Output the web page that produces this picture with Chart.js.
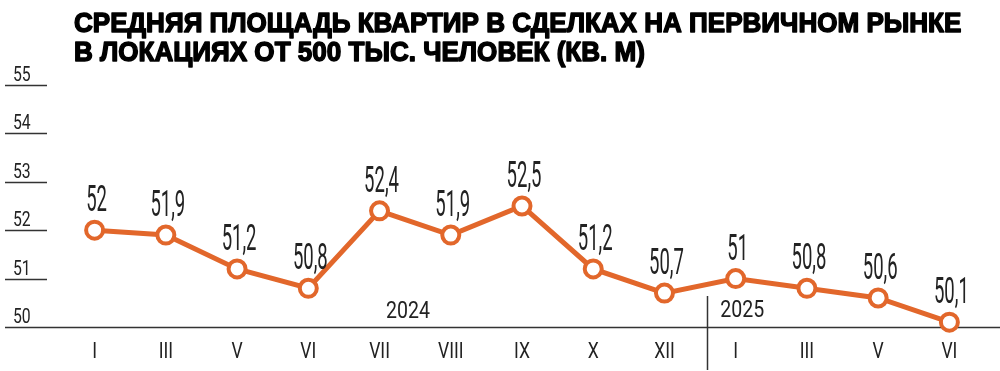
<!DOCTYPE html>
<html>
<head>
<meta charset="utf-8">
<script src="https://cdn.jsdelivr.net/npm/chart.js@4"></script>
<style>
  html, body { margin: 0; padding: 0; background: #fff; }
  #wrap { width: 1000px; height: 371px; position: relative; }
</style>
</head>
<body>
<div id="wrap"><canvas id="lineChart"></canvas></div>
<script>
// данные
const meses = ["I", "III", "V", "VI", "VII", "VIII", "IX", "X", "XII", "I", "III", "V", "VI"];
const area = [52, 51.9, 51.2, 50.8, 52.4, 51.9, 52.5, 51.2, 50.7, 51, 50.8, 50.6, 50.1];
const yTicks = [50, 51, 52, 53, 54, 55];
const anos = ["2024", "2025"];
const titulo = ["СРЕДНЯЯ ПЛОЩАДЬ КВАРТИР В СДЕЛКАХ НА ПЕРВИЧНОМ РЫНКЕ",
                "В ЛОКАЦИЯХ ОТ 500 ТЫС. ЧЕЛОВЕК (КВ. М)"];

const laranja = "#E2672B";
const tinta = "#222";

// texto estreito (fonte condensada simulada)
function textoEstreito(ctx, txt, x, y, size, sx, align, peso) {
  ctx.save();
  ctx.font = `${peso || 400} ${size}px "Roboto", "Liberation Sans", sans-serif`;
  ctx.textBaseline = "alphabetic";
  ctx.textAlign = align || "center";
  ctx.translate(x, y);
  ctx.scale(sx, 1);
  ctx.fillText(txt, 0, 0);
  ctx.restore();
}

const desenhos = {
  id: "desenhos",
  beforeDatasetsDraw(chart) {
    const { ctx } = chart;
    const x = chart.scales.x, y = chart.scales.y;
    ctx.save();
    ctx.fillStyle = tinta;
    ctx.strokeStyle = "#333";
    ctx.lineWidth = 1.5;
    // eixo y: traços curtos e rótulos
    yTicks.forEach(v => {
      const py = Math.round(y.getPixelForValue(v)) + 0.5;
      ctx.beginPath();
      ctx.moveTo(5, py);
      ctx.lineTo(v === 50 ? 1000 : 47, py);
      ctx.stroke();
      textoEstreito(ctx, String(v), 13, py - 5, 21, 0.75, "left");
    });
    // rótulos do eixo x
    meses.forEach((m, i) => {
      textoEstreito(ctx, m, x.getPixelForValue(i), 358, 22, 0.8);
    });
    // separador de anos
    const sep = x.getPixelForValue(8) + (x.getPixelForValue(9) - x.getPixelForValue(8)) * 0.6;
    ctx.beginPath();
    ctx.moveTo(Math.round(sep) + 0.5, 296);
    ctx.lineTo(Math.round(sep) + 0.5, 370);
    ctx.stroke();
    const x4 = x.getPixelForValue(4), x5 = x.getPixelForValue(5);
    textoEstreito(ctx, anos[0], x4 + (x5 - x4) * 0.4, 318, 23, 0.85);
    textoEstreito(ctx, anos[1], sep + 13, 317, 23, 0.85, "left");
    ctx.restore();
  },
  afterDatasetsDraw(chart) {
    const { ctx } = chart;
    const meta = chart.getDatasetMeta(0);
    ctx.save();
    ctx.fillStyle = tinta;
    meta.data.forEach((pt, i) => {
      const txt = String(area[i]).replace(".", ",");
      textoEstreito(ctx, txt, pt.x + 2, pt.y - 19, 37, 0.5);
    });
    // título (pesado)
    ctx.fillStyle = "#000";
    ctx.strokeStyle = "#000";
    ctx.lineWidth = 1.4;
    ctx.lineJoin = "round";
    ctx.textAlign = "left";
    ctx.textBaseline = "alphabetic";
    let size = 30;
    const fam = `"Liberation Sans", "Arial", sans-serif`;
    ctx.font = `bold ${size}px ${fam}`;
    const w = ctx.measureText(titulo[0]).width;
    size = size * 888 / w;
    ctx.font = `bold ${size}px ${fam}`;
    [[titulo[0], 32], [titulo[1], 61]].forEach(([t, by]) => {
      ctx.save();
      ctx.translate(74, by);
      ctx.scale(1, 1.08);
      ctx.fillText(t, 0, 0);
      ctx.strokeText(t, 0, 0);
      ctx.restore();
    });
    ctx.restore();
  }
};

new Chart(document.getElementById("lineChart").getContext("2d"), {
  type: "line",
  data: {
    labels: meses,
    datasets: [{
      data: area,
      borderColor: laranja,
      borderWidth: 5,
      pointRadius: 8.5,
      pointBorderWidth: 4,
      pointBackgroundColor: "#fff",
      pointBorderColor: laranja,
      tension: 0,
      clip: false
    }]
  },
  options: {
    responsive: true,
    maintainAspectRatio: false,
    animation: false,
    layout: { padding: { top: 85, bottom: 44, left: 59, right: 15 } },
    plugins: { legend: { display: false }, title: { display: false }, tooltip: { enabled: false } },
    scales: {
      x: { display: false, offset: true },
      y: { display: false, min: 50, max: 55 }
    }
  },
  plugins: [desenhos]
});
</script>
</body>
</html>
